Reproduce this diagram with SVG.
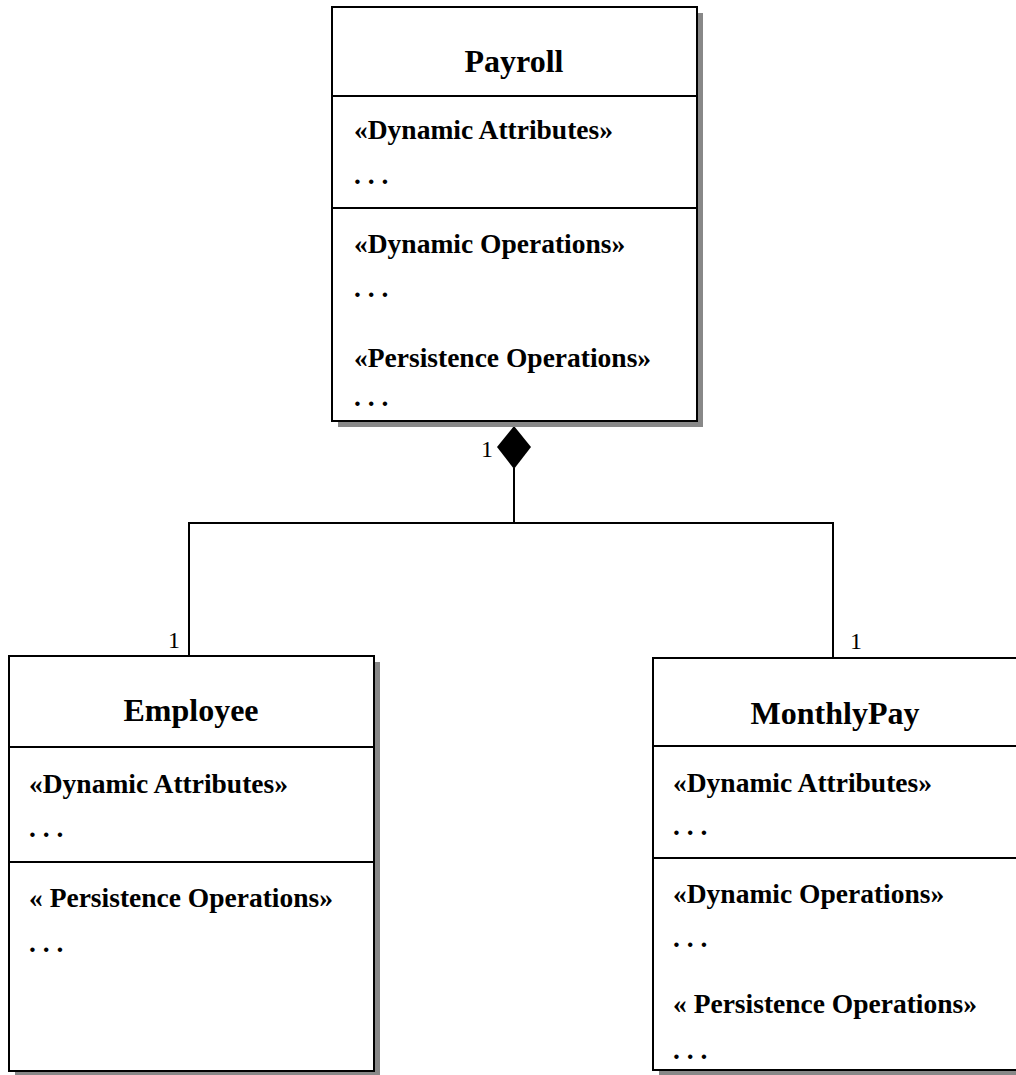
<svg xmlns="http://www.w3.org/2000/svg" width="1016" height="1075" viewBox="0 0 1016 1075">
<style>
.box{fill:#fff;stroke:#000;stroke-width:2}
.shadow{fill:#888}
.div{stroke:#000;stroke-width:2}
.title{font-family:"Liberation Serif","Times New Roman",serif;font-weight:bold;font-size:32px;text-anchor:middle}
.t{font-family:"Liberation Serif","Times New Roman",serif;font-weight:bold;font-size:27.5px}
.m{font-family:"Liberation Serif","Times New Roman",serif;font-size:24px}
.conn{fill:none;stroke:#000;stroke-width:2}
</style>
<rect width="1016" height="1075" fill="#fff"/>
<g id="connectors">
<polyline class="conn" points="189,656 189,523 833,523 833,657"/>
<line class="conn" x1="514" y1="468" x2="514" y2="523"/>
<polygon points="514,426 531,447 514,469 497,447" fill="#000"/>
<text class="m" x="493" y="457" text-anchor="end">1</text>
<text class="m" x="180" y="648" text-anchor="end">1</text>
<text class="m" x="850" y="649">1</text>
</g>
<g id="payroll">
<rect class="shadow" x="338" y="13" width="365" height="414"/>
<rect class="box" x="332" y="7" width="365" height="414"/>
<line class="div" x1="332" y1="96" x2="697" y2="96"/>
<line class="div" x1="332" y1="208" x2="697" y2="208"/>
<text class="title" x="514" y="72">Payroll</text>
<text class="t" x="354" y="139">«Dynamic Attributes»</text>
<text class="t" x="354" y="184">. . .</text>
<text class="t" x="354" y="253">«Dynamic Operations»</text>
<text class="t" x="354" y="297">. . .</text>
<text class="t" x="354" y="367">«Persistence Operations»</text>
<text class="t" x="354" y="406">. . .</text>
</g>
<g id="employee">
<rect class="shadow" x="15" y="662" width="365" height="415"/>
<rect class="box" x="9" y="656" width="365" height="415"/>
<line class="div" x1="9" y1="747" x2="374" y2="747"/>
<line class="div" x1="9" y1="862" x2="374" y2="862"/>
<text class="title" x="191" y="721">Employee</text>
<text class="t" x="29" y="793">«Dynamic Attributes»</text>
<text class="t" x="29" y="837">. . .</text>
<text class="t" x="29" y="907">« Persistence Operations»</text>
<text class="t" x="29" y="952">. . .</text>
</g>
<g id="monthlypay">
<rect class="shadow" x="659" y="664" width="365" height="412"/>
<rect class="box" x="653" y="658" width="365" height="412"/>
<line class="div" x1="653" y1="746" x2="1018" y2="746"/>
<line class="div" x1="653" y1="858" x2="1018" y2="858"/>
<text class="title" x="835" y="724">MonthlyPay</text>
<text class="t" x="673" y="792">«Dynamic Attributes»</text>
<text class="t" x="673" y="835">. . .</text>
<text class="t" x="673" y="903">«Dynamic Operations»</text>
<text class="t" x="673" y="947">. . .</text>
<text class="t" x="673" y="1013">« Persistence Operations»</text>
<text class="t" x="673" y="1059">. . .</text>
</g>
</svg>
